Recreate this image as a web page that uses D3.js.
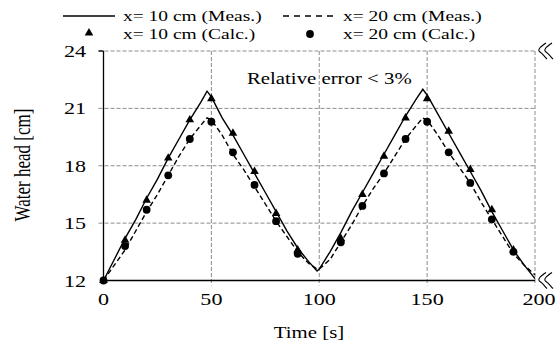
<!DOCTYPE html>
<html>
<head>
<meta charset="utf-8">
<script src="https://cdn.jsdelivr.net/npm/d3@7"></script>
<style>
  body { margin: 0; background: #fff; }
  svg text { font-family: "Liberation Serif", "Times New Roman", serif; fill: #000; }
</style>
</head>
<body>
<svg id="chart" width="560" height="345"></svg>
<script>
const measTime = [0, 5, 10, 15, 20, 25, 30, 35, 40, 45, 48, 50, 55, 60, 65, 70, 75, 80, 85, 90, 95, 99,
  100, 105, 110, 115, 120, 125, 130, 135, 140, 145, 148, 150, 155, 160, 165, 170, 175, 180, 185, 190, 195, 200];
const meas10 = [12.0, 13.1, 14.2, 15.2, 16.3, 17.3, 18.4, 19.4, 20.4, 21.3, 21.9, 21.6, 20.5, 19.6, 18.6, 17.6, 16.6, 15.6, 14.6, 13.7, 13.0, 12.5,
  12.6, 13.5, 14.5, 15.6, 16.6, 17.6, 18.6, 19.6, 20.6, 21.5, 22.0, 21.7, 20.7, 19.7, 18.7, 17.7, 16.7, 15.6, 14.6, 13.6, 12.8, 12.1];
const meas20 = [12.0, 12.8, 13.6, 14.6, 15.6, 16.5, 17.5, 18.5, 19.4, 20.1, 20.5, 20.4, 19.6, 18.6, 17.8, 16.9, 16.0, 15.1, 14.3, 13.5, 12.9, 12.6,
  12.6, 13.1, 14.0, 14.9, 15.9, 16.8, 17.6, 18.5, 19.4, 20.1, 20.5, 20.4, 19.6, 18.7, 17.9, 17.1, 16.1, 15.2, 14.3, 13.4, 12.8, 12.3];

// calculated points
const calcTime = [0, 10, 20, 30, 40, 50, 60, 70, 80, 90, 110, 120, 130, 140, 150, 160, 170, 180, 190];
const calc10 = [12.0, 14.1, 16.2, 18.4, 20.4, 21.5, 19.7, 17.7, 15.5, 13.6, 14.2, 16.5, 18.5, 20.5, 21.5, 19.8, 17.8, 15.7, 13.6];
const calc20 = [12.0, 13.8, 15.7, 17.5, 19.4, 20.3, 18.7, 17.0, 15.1, 13.4, 14.0, 15.9, 17.6, 19.4, 20.3, 18.7, 17.1, 15.2, 13.5];

const xTicks = [0, 50, 100, 150, 200];
const yTicks = [12, 15, 18, 21, 24];
const legendLabels = ["x= 10 cm (Meas.)", "x= 20 cm (Meas.)", "x= 10 cm (Calc.)", "x= 20 cm (Calc.)"];

const svg = d3.select("#chart");
const SX = 1.3; // the source figure is stretched sideways

const x = d3.scaleLinear().domain([0, 200]).range([103.5, 535]);
const y = d3.scaleLinear().domain([12, 24]).range([280.5, 51]);

// put a text at (px,py), stretched horizontally
function label(str, px, py, size, anchor, rotate) {
  return svg.append("text")
    .attr("transform", `translate(${px},${py}) scale(${SX},1)` + (rotate ? ` rotate(${rotate})` : ""))
    .attr("text-anchor", anchor || "start")
    .style("font-size", size + "px")
    .text(str);
}

// grid
const grid = svg.append("g").attr("stroke", "#8c8c8c").attr("stroke-width", 1).attr("stroke-dasharray", "4,2");
grid.selectAll(".gy").data(yTicks.filter(d => d > 12)).join("line")
  .attr("x1", x(0) - 5).attr("x2", x(200))
  .attr("y1", d => y(d)).attr("y2", d => y(d));
grid.selectAll(".gx").data(xTicks.filter(d => d > 0)).join("line")
  .attr("x1", d => x(d)).attr("x2", d => x(d))
  .attr("y1", y(24)).attr("y2", y(12) + 5);

// axes lines
svg.append("line").attr("x1", x(0)).attr("x2", x(0)).attr("y1", y(24)).attr("y2", y(12))
  .attr("stroke", "#000").attr("stroke-width", 1.3);
svg.append("line").attr("x1", x(0) - 5).attr("x2", x(0)).attr("y1", y(24)).attr("y2", y(24))
  .attr("stroke", "#000").attr("stroke-width", 1.3);
svg.append("line").attr("x1", x(0)).attr("x2", x(200)).attr("y1", y(12)).attr("y2", y(12))
  .attr("stroke", "#000").attr("stroke-width", 1.3);

// tick labels
xTicks.forEach(t => label(String(t), x(t) + (t === 200 ? 4 : 0), y(12) + 24, 17, "middle"));
yTicks.forEach(t => label(String(t), 86, y(t) + 6, 17, "end"));

// axis titles
label("Time [s]", 309, 338, 16, "middle");
label("Water head [cm]", 30, 165, 17, "middle", -90);
label("Relative error < 3%", 247, 84, 16, "start");

// measured lines
const line = d3.line().x(d => x(d[0])).y(d => y(d[1]));
svg.append("path").datum(d3.zip(measTime, meas10)).attr("d", line)
  .attr("fill", "none").attr("stroke", "#000").attr("stroke-width", 1.4);
svg.append("path").datum(d3.zip(measTime, meas20)).attr("d", line)
  .attr("fill", "none").attr("stroke", "#000").attr("stroke-width", 1.4).attr("stroke-dasharray", "5,3");

// calculated markers
const tri = d3.symbol().type(d3.symbolTriangle).size(32);
svg.append("g").selectAll("path").data(d3.zip(calcTime, calc10)).join("path")
  .attr("d", tri)
  .attr("transform", d => `translate(${x(d[0])},${y(d[1])})`)
  .attr("fill", "#000");
svg.append("g").selectAll("circle").data(d3.zip(calcTime, calc20)).join("circle")
  .attr("cx", d => x(d[0])).attr("cy", d => y(d[1])).attr("r", 3.9)
  .attr("fill", "#000");

// axis break marks on the right edge
function breakMark(px, py) {
  const g = svg.append("g").attr("transform", `translate(${px},${py})`);
  [0, 6].forEach(dx => {
    g.append("path")
      .attr("d", `M${dx + 9},-8 C${dx + 3},-4 ${dx},-1 ${dx + 3},1 C${dx + 6},3 ${dx + 7},5 ${dx + 10},8`)
      .attr("fill", "none").attr("stroke", "#000").attr("stroke-width", 1.1);
  });
}
breakMark(x(200) + 2, y(24));
breakMark(x(200) + 2, y(12));

// legend
const leg = svg.append("g");
leg.append("line").attr("x1", 63).attr("x2", 115).attr("y1", 16).attr("y2", 16)
  .attr("stroke", "#000").attr("stroke-width", 1.4);
leg.append("line").attr("x1", 283).attr("x2", 335).attr("y1", 16).attr("y2", 16)
  .attr("stroke", "#000").attr("stroke-width", 1.4).attr("stroke-dasharray", "6,5");
leg.append("path").attr("d", tri).attr("transform", "translate(89,33)").attr("fill", "#000");
leg.append("circle").attr("cx", 310).attr("cy", 34).attr("r", 3.9).attr("fill", "#000");
label(legendLabels[0], 123, 21, 15);
label(legendLabels[1], 343, 21, 15);
label(legendLabels[2], 123, 39, 15);
label(legendLabels[3], 343, 39, 15);
</script>
</body>
</html>
